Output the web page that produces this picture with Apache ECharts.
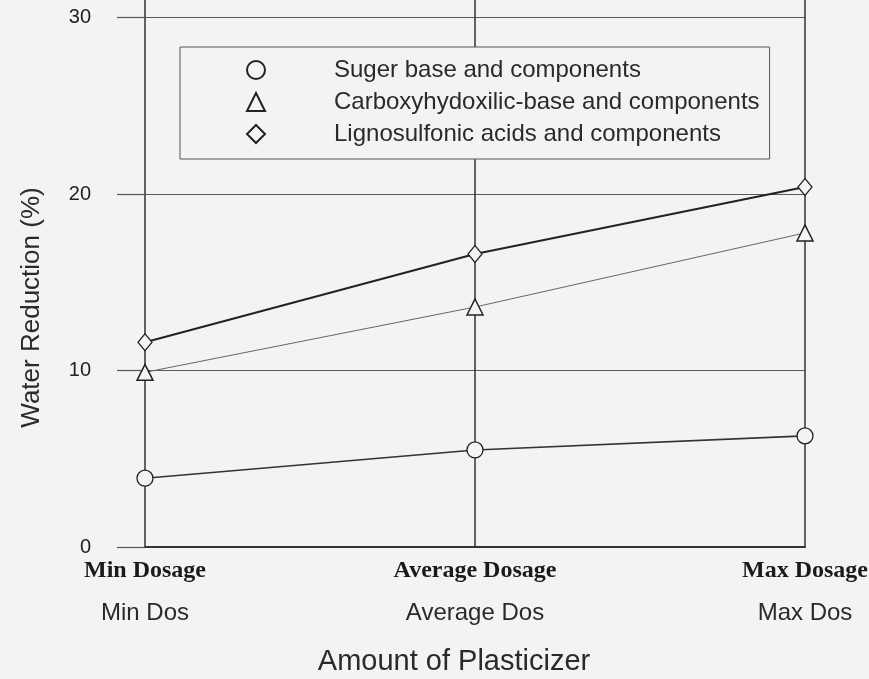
<!DOCTYPE html>
<html>
<head>
<meta charset="utf-8">
<script src="https://cdn.jsdelivr.net/npm/echarts@6/dist/echarts.min.js"></script>
<style>
html,body{margin:0;padding:0;background:#f3f3f5;}
#chart{width:869px;height:679px;}
</style>
</head>
<body>
<div id="chart"></div>
<script>
var categories = ['Min Dosage', 'Average Dosage', 'Max Dosage'];
var subLabels = ['Min Dos', 'Average Dos', 'Max Dos'];
var yTicks = [0, 10, 20, 30];
var sugerValues = [3.9, 5.5, 6.3];
var carboxyValues = [9.9, 13.6, 17.8];
var lignoValues = [11.6, 16.6, 20.4];
var seriesNames = ['Suger base and components', 'Carboxyhydoxilic-base and components', 'Lignosulfonic acids and components'];
var legendIcons = ['circle', 'triangle', 'diamond'];

var bg = '#f3f3f5';
var chart = echarts.init(document.getElementById('chart'));
chart.setOption({
  backgroundColor: bg,
  animation: false,
  grid: {left: 145, right: 64, top: 0, bottom: 132, containLabel: false, outerBoundsMode: 'none'},
  legend: {
    orient: 'vertical',
    left: 180, top: 47,
    padding: [11, 10, 13, 66],
    borderColor: '#555', borderWidth: 1,
    backgroundColor: bg,
    itemWidth: 18, itemHeight: 18, itemGap: 8,
    textStyle: {fontFamily: 'Liberation Sans, Arial', fontSize: 24, color: '#2a2a2a', lineHeight: 22, padding: [0, 0, 0, 64]},
    data: seriesNames.map(function (n, i) { return {name: n, icon: legendIcons[i]}; })
  },
  xAxis: {
    type: 'category', data: categories, boundaryGap: false,
    name: 'Amount of Plasticizer', nameLocation: 'middle', nameGap: 100,
    nameTextStyle: {fontFamily: 'Liberation Sans, Arial', fontSize: 29, color: '#2a2a2a', padding: [0, 42, 0, 0]},
    axisLine: {lineStyle: {color: '#333', width: 2}},
    axisTick: {show: false},
    splitLine: {show: true, lineStyle: {color: '#333', width: 1.5}},
    axisLabel: {
      margin: 12, interval: 0,
      formatter: function (v, i) { return '{a|' + v + '}\n{b|' + subLabels[i] + '}'; },
      rich: {
        a: {fontFamily: 'Liberation Serif, Times New Roman', fontWeight: 'bold', fontSize: 24, color: '#1a1a1a', lineHeight: 24},
        b: {fontFamily: 'Liberation Sans, Arial', fontSize: 24, color: '#2a2a2a', lineHeight: 42, verticalAlign: 'bottom'}
      }
    }
  },
  yAxis: {
    type: 'value', min: 0, max: 31, interval: 10,
    name: 'Water Reduction (%)', nameLocation: 'middle', nameGap: 100,
    nameTextStyle: {fontFamily: 'Liberation Sans, Arial', fontSize: 26, color: '#2a2a2a', padding: [0, 68, 0, 0]},
    axisLine: {show: false},
    axisTick: {show: true, length: 28, customValues: yTicks, lineStyle: {color: '#555', width: 1.2}},
    axisLabel: {margin: 54, customValues: yTicks, fontFamily: 'Liberation Sans, Arial', fontSize: 20, color: '#222'},
    splitLine: {show: true, showMaxLine: true, lineStyle: {color: '#5a5a5a', width: 1}}
  },
  series: [
    {name: seriesNames[0], type: 'line', data: sugerValues, symbol: 'circle', symbolSize: 16,
     lineStyle: {color: '#333', width: 1.6}, itemStyle: {color: bg, borderColor: '#222', borderWidth: 1.3}, z: 5},
    {name: seriesNames[1], type: 'line', data: carboxyValues, symbol: 'triangle', symbolSize: 16,
     lineStyle: {color: '#666', width: 1}, itemStyle: {color: bg, borderColor: '#222', borderWidth: 1.5}, z: 5},
    {name: seriesNames[2], type: 'line', data: lignoValues, symbol: 'diamond', symbolSize: [14, 17],
     lineStyle: {color: '#222', width: 2}, itemStyle: {color: bg, borderColor: '#222', borderWidth: 1.3}, z: 5}
  ]
});
</script>
</body>
</html>
